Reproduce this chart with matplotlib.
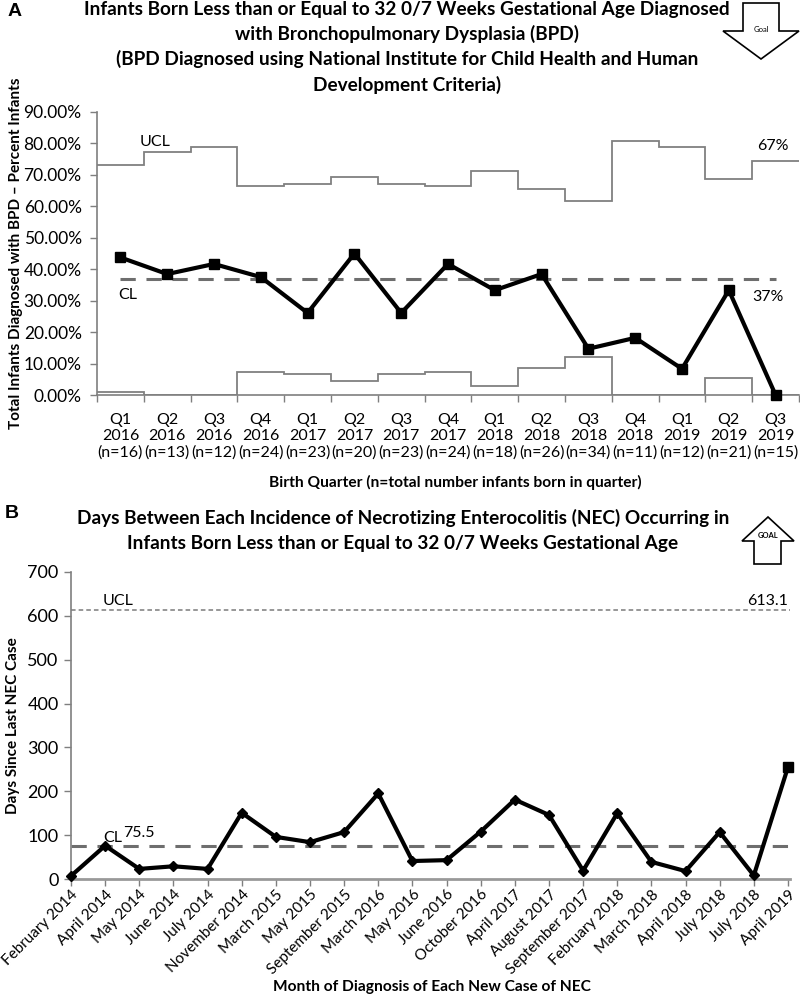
import numpy as np
import matplotlib
matplotlib.use("Agg")
import matplotlib.pyplot as plt
from matplotlib.patches import Polygon
from matplotlib.ticker import FuncFormatter

plt.rcParams['font.family'] = ['Lato', 'DejaVu Sans']

# ---- panel A data ----
quarters = ["Q1", "Q2", "Q3", "Q4", "Q1", "Q2", "Q3", "Q4", "Q1", "Q2", "Q3", "Q4", "Q1", "Q2", "Q3"]
years = ["2016"] * 4 + ["2017"] * 4 + ["2018"] * 4 + ["2019"] * 3
n_born = [16, 13, 12, 24, 23, 20, 23, 24, 18, 26, 34, 11, 12, 21, 15]
bpd_pct = [43.75, 38.46, 41.67, 37.5, 26.09, 45.0, 26.09, 41.67, 33.33, 38.46, 14.71, 18.18, 8.33, 33.33, 0.0]
ucl_a = [73.2, 77.2, 78.8, 66.6, 67.2, 69.4, 67.2, 66.6, 71.1, 65.4, 61.8, 80.7, 78.8, 68.6, 74.4]
lcl_a = [0.8, 0.0, 0.0, 7.4, 6.8, 4.6, 6.8, 7.4, 2.9, 8.6, 12.2, 0.0, 0.0, 5.4, 0.0]
cl_a = 37.0

# ---- panel B data ----
months = ["February 2014", "April 2014", "May 2014", "June 2014", "July 2014", "November 2014",
          "March 2015", "May 2015", "September 2015", "March 2016", "May 2016", "June 2016",
          "October 2016", "April 2017", "August 2017", "September 2017", "February 2018",
          "March 2018", "April 2018", "July 2018", "July 2018", "April 2019"]
days = [7, 76, 23, 29, 23, 151, 96, 84, 107, 195, 41, 43, 108, 181, 146, 19, 150, 39, 18, 107, 8, 255]
cl_b = 75.5
ucl_b = 613.1

W, H = 800, 1007
fig = plt.figure(figsize=(8, 10.07), dpi=100)


def fx(px):
    return px / W


def fy(py):
    return 1 - py / H


grey = "#7f7f7f"

# ================= panel A =================
axA = fig.add_axes([fx(97), fy(395), fx(799) - fx(97), fy(112) - fy(395)])
edges = np.arange(len(bpd_pct) + 1)
centers = np.arange(len(bpd_pct)) + 0.5
axA.stairs(ucl_a, edges, baseline=None, color="#808080", lw=1.3)
axA.stairs(lcl_a, edges, baseline=None, color="#808080", lw=1.3)
axA.plot([centers[0], centers[-1]], [cl_a, cl_a], color="#6e6e6e", lw=2.2, ls=(0, (5, 3.5)))
axA.plot(centers, bpd_pct, color="black", lw=3, marker="s", ms=7, clip_on=False, zorder=5)

axA.set_xlim(0, 15)
axA.set_ylim(0, 90)
axA.set_yticks(np.arange(0, 91, 10))
axA.yaxis.set_major_formatter(FuncFormatter(lambda v, p: "%.2f%%" % v))
axA.set_xticks(edges)
axA.set_xticklabels([])
axA.set_xticks(centers, minor=True)
axA.set_xticklabels(["%s\n%s\n(n=%d)" % (q, y, n) for q, y, n in zip(quarters, years, n_born)],
                    minor=True, fontsize=11.5, linespacing=1.2)
axA.tick_params(axis="x", which="minor", length=0, pad=13)
axA.tick_params(axis="x", which="major", length=5, color=grey, width=1)
axA.tick_params(axis="y", length=5, color=grey, width=1, labelsize=12.5, pad=6)
for s in ["top", "right"]:
    axA.spines[s].set_visible(False)
for s in ["left", "bottom"]:
    axA.spines[s].set_color(grey)
    axA.spines[s].set_linewidth(1.2)

axA.text(0.92, 80.5, "UCL", fontsize=11.5, va="center", ha="left")
axA.text(0.45, 31.8, "CL", fontsize=11.5, va="center", ha="left")
axA.text(14.1, 79.3, "67%", fontsize=11.5, va="center", ha="left")
axA.text(14.0, 31.2, "37%", fontsize=11.5, va="center", ha="left")

titleA = ("Infants Born Less than or Equal to 32 0/7 Weeks Gestational Age Diagnosed\n"
          "with Bronchopulmonary Dysplasia (BPD)\n"
          "(BPD Diagnosed using National Institute for Child Health and Human\n"
          "Development Criteria)")
fig.text(fx(407), fy(1), titleA, ha="center", va="top", fontsize=13.7, fontweight="bold",
         linespacing=1.47)
fig.text(fx(455), fy(482), "Birth Quarter (n=total number infants born in quarter)",
         ha="center", va="center", fontsize=11.2, fontweight="bold")
fig.text(fx(16), fy(253), "Total Infants Diagnosed with BPD \u2013 Percent Infants",
         ha="center", va="center", rotation=90, fontsize=11, fontweight="bold")
fig.text(fx(15), fy(12), "A", ha="center", va="center", fontsize=14, fontweight="bold",
         family="Liberation Sans")

# goal arrow A (pointing down)
arrA = [(743, 3), (779, 3), (779, 31), (799, 31), (761, 59), (723, 31), (743, 31)]
fig.patches.append(Polygon([(fx(x), fy(y)) for x, y in arrA], closed=True, fc="white",
                           ec="black", lw=1.2, transform=fig.transFigure))
fig.text(fx(761), fy(29), "Goal", ha="center", va="center", fontsize=5.5)

# ================= panel B =================
xb = np.arange(len(days))
axB = fig.add_axes([fx(71), fy(879), fx(790) - fx(71), fy(572) - fy(879)])
axB.axhline(ucl_b, color="#7a7a7a", lw=1.1, ls=(0, (3, 2)))
axB.axhline(cl_b, color="#6e6e6e", lw=2.2, ls=(0, (5, 3.5)))
axB.plot(xb, days, color="black", lw=3, marker="D", ms=5, clip_on=False, zorder=5)
axB.plot(xb[-1:], days[-1:], color="black", marker="s", ms=7, ls="none", clip_on=False, zorder=6)

axB.set_xlim(0, 21.06)
axB.set_ylim(0, 700)
axB.set_yticks(np.arange(0, 701, 100))
axB.set_xticks(xb)
axB.set_xticklabels(months, rotation=45, ha="right", va="top", rotation_mode="anchor",
                    fontsize=11)
axB.tick_params(axis="x", length=5, color=grey, width=1, pad=1)
axB.tick_params(axis="y", length=5, color=grey, width=1, labelsize=13, pad=4)
for s in ["top", "right"]:
    axB.spines[s].set_visible(False)
axB.spines["left"].set_color(grey)
axB.spines["left"].set_linewidth(1.2)
axB.spines["bottom"].set_color("#999999")
axB.spines["bottom"].set_linewidth(2)

axB.text(0.94, 634, "UCL", fontsize=11.5, va="center", ha="left")
axB.text(21.0, 634, "613.1", fontsize=11.5, va="center", ha="right")
axB.text(0.94, 93, "CL", fontsize=11.5, va="center", ha="left")
axB.text(1.52, 106, "75.5", fontsize=11.5, va="center", ha="left")

titleB = ("Days Between Each Incidence of Necrotizing Enterocolitis (NEC) Occurring in\n"
          "Infants Born Less than or Equal to 32 0/7 Weeks Gestational Age")
fig.text(fx(403), fy(509), titleB, ha="center", va="top", fontsize=13.7, fontweight="bold",
         linespacing=1.6)
fig.text(fx(432), fy(987), "Month of Diagnosis of Each New Case of NEC",
         ha="center", va="center", fontsize=11.2, fontweight="bold")
fig.text(fx(13), fy(726), "Days Since Last NEC Case",
         ha="center", va="center", rotation=90, fontsize=11, fontweight="bold")
fig.text(fx(12), fy(513), "B", ha="center", va="center", fontsize=14, fontweight="bold",
         family="Liberation Sans")

# goal arrow B (pointing up)
arrB = [(768, 517), (794, 541), (781, 541), (781, 564), (754, 564), (754, 541), (742, 541)]
fig.patches.append(Polygon([(fx(x), fy(y)) for x, y in arrB], closed=True, fc="white",
                           ec="black", lw=1.2, transform=fig.transFigure))
fig.text(fx(768), fy(536), "GOAL", ha="center", va="center", fontsize=5.5, fontweight="bold")

fig.savefig("out.png", dpi=100)
